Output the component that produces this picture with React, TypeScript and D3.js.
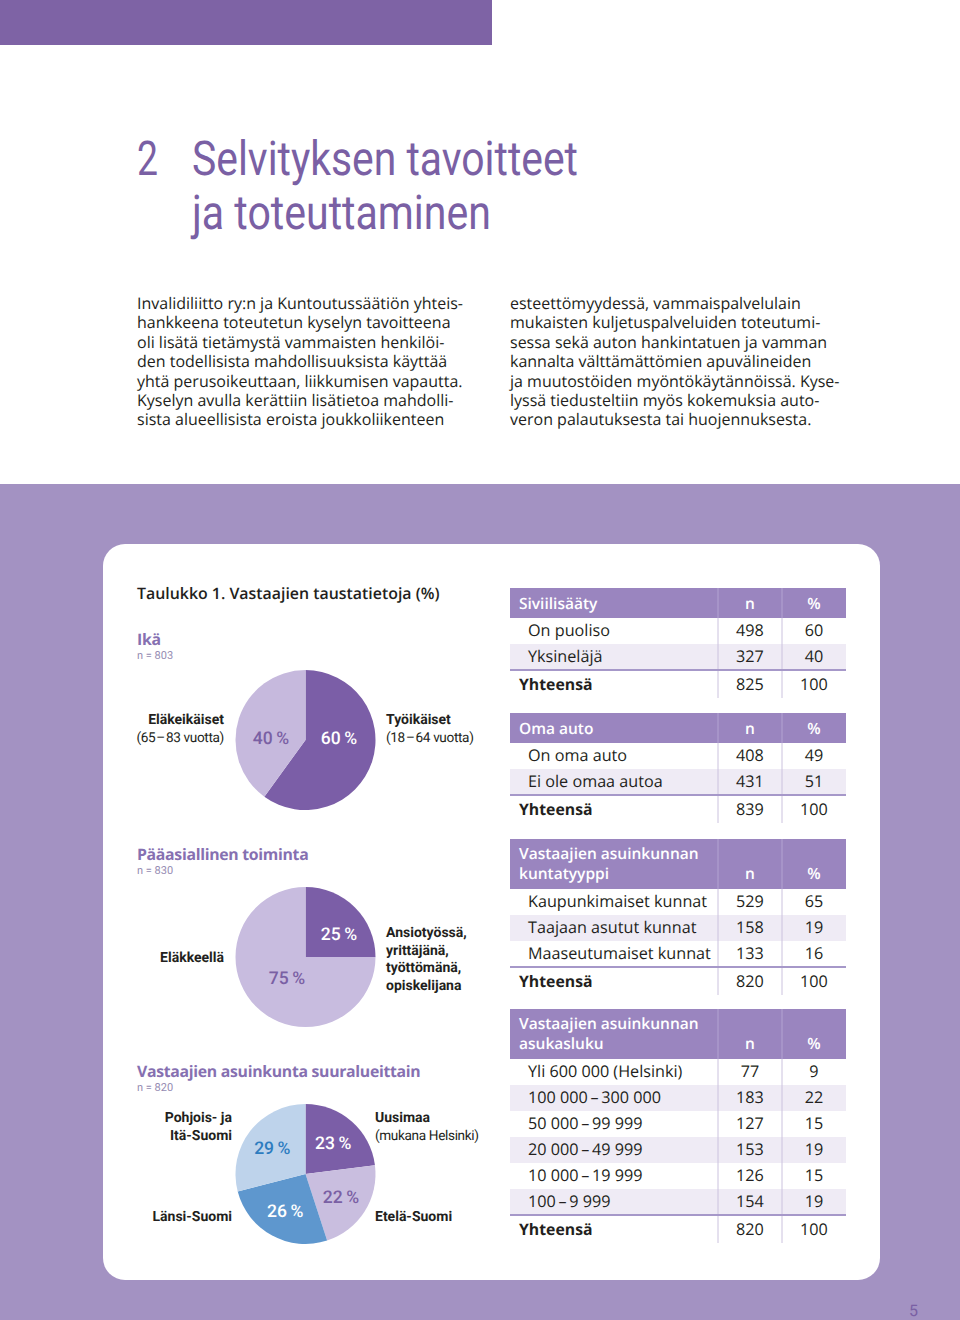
import React from 'react';
import * as d3 from 'd3';

// ---------- DATA ----------
const titleNumber = '2';
const titleLines = ['Selvityksen tavoitteet', 'ja toteuttaminen'];

const leftParagraph = [
  'Invalidiliitto ry:n ja Kuntoutussäätiön yhteis-',
  'hankkeena toteutetun kyselyn tavoitteena',
  'oli lisätä tietämystä vammaisten henkilöi-',
  'den todellisista mahdollisuuksista käyttää',
  'yhtä perusoikeuttaan, liikkumisen vapautta.',
  'Kyselyn avulla kerättiin lisätietoa mahdolli-',
  'sista alueellisista eroista joukkoliikenteen',
];
const rightParagraph = [
  'esteettömyydessä, vammaispalvelulain',
  'mukaisten kuljetuspalveluiden toteutumi-',
  'sessa sekä auton hankintatuen ja vamman',
  'kannalta välttämättömien apuvälineiden',
  'ja muutostöiden myöntökäytännöissä. Kyse-',
  'lyssä tiedusteltiin myös kokemuksia auto-',
  'veron palautuksesta tai huojennuksesta.',
];

const tableCaption = 'Taulukko 1. Vastaajien taustatietoja (%)';

// Pie: Ikä
const ageTitle = 'Ikä';
const ageN = 'n = 803';
const ageCategories = ['Työikäiset', 'Eläkeikäiset'];
const ageSubLabels = ['(18\u200A–\u200A64 vuotta)', '(65\u200A–\u200A83 vuotta)'];
const ageValues = [60, 40];

// Pie: Pääasiallinen toiminta
const activityTitle = 'Pääasiallinen toiminta';
const activityN = 'n = 830';
const activityLines = ['Ansiotyössä,', 'yrittäjänä,', 'työttömänä,', 'opiskelijana'];
const activityCategories = ['Ansiotyössä, yrittäjänä, työttömänä, opiskelijana', 'Eläkkeellä'];
const activityValues = [25, 75];

// Pie: suuralueet
const regionTitle = 'Vastaajien asuinkunta suuralueittain';
const regionN = 'n = 820';
const regionCategories = ['Uusimaa', 'Etelä-Suomi', 'Länsi-Suomi', 'Pohjois- ja Itä-Suomi'];
const regionSubLabel = '(mukana Helsinki)';
const regionLastLines = ['Pohjois- ja', 'Itä-Suomi'];
const regionValues = [23, 22, 26, 29];

// Tables
const civilHeader = ['Siviilisääty'];
const civilLabels = ['On puoliso', 'Yksineläjä'];
const civilN = [498, 327];
const civilPct = [60, 40];
const civilTotal = [825, 100];

const carHeader = ['Oma auto'];
const carLabels = ['On oma auto', 'Ei ole omaa autoa'];
const carN = [408, 431];
const carPct = [49, 51];
const carTotal = [839, 100];

const typeHeader = ['Vastaajien asuinkunnan', 'kuntatyyppi'];
const typeLabels = ['Kaupunkimaiset kunnat', 'Taajaan asutut kunnat', 'Maaseutumaiset kunnat'];
const typeN = [529, 158, 133];
const typePct = [65, 19, 16];
const typeTotal = [820, 100];

const popHeader = ['Vastaajien asuinkunnan', 'asukasluku'];
const popLabels = [
  'Yli 600 000 (Helsinki)',
  '100 000\u2009–\u2009300 000',
  '50 000\u2009–\u200999 999',
  '20 000\u2009–\u200949 999',
  '10 000\u2009–\u200919 999',
  '100\u2009–\u20099 999',
];
const popN = [77, 183, 127, 153, 126, 154];
const popPct = [9, 22, 15, 19, 15, 19];
const popTotal = [820, 100];

const totalLabel = 'Yhteensä';
const pageNumber = '5';

// ---------- STYLE ----------
const SANS = "'Open Sans', 'Noto Sans', sans-serif";
const COND = "Roboto, 'Liberation Sans', sans-serif";
const PURPLE_DARK = '#7B5EA7';
const PURPLE_TEXT = '#7A60A4';
const PURPLE_HEAD = '#8670B1';
const LAVENDER = '#C6B9DD';
const BAND = '#A392C2';
const TABLE_HEAD = '#9A85BF';
const SHADE = '#EFEBF5';
const INK = '#231F20';

const COLS = { left: 510, c1: 718, c2: 782, right: 846 };
const ROW_H = 26;
const TOTAL_H = 30;
const TABLE_FS = 16.2;

type TableProps = {
  top: number;
  header: string[];
  labels: string[];
  n: number[];
  pct: number[];
  total: number[];
};

function Table({ top, header, labels, n, pct, total }: TableProps) {
  const headerH = header.length > 1 ? 50 : 30;
  const bodyTop = top + headerH;
  const y = d3
    .scaleBand<number>()
    .domain(d3.range(labels.length))
    .range([bodyTop, bodyTop + labels.length * ROW_H]);
  const bodyBottom = bodyTop + labels.length * ROW_H;
  const bottom = bodyBottom + TOTAL_H - 2;
  const nX = (COLS.c1 + COLS.c2) / 2;
  const pX = (COLS.c2 + COLS.right) / 2;
  const headBase = header.length > 1 ? [top + 20, top + 40] : [top + 21];
  const lastHead = headBase[headBase.length - 1];
  return (
    <g>
      <rect x={COLS.left} y={top} width={COLS.right - COLS.left} height={headerH} fill={TABLE_HEAD} />
      {labels.map((_, i) =>
        i % 2 === 1 ? (
          <rect key={'s' + i} x={COLS.left} y={y(i)} width={COLS.right - COLS.left} height={y.bandwidth()} fill={SHADE} />
        ) : null
      )}
      {[COLS.c1, COLS.c2].map((x) => (
        <g key={'v' + x}>
          <line x1={x} x2={x} y1={top} y2={bodyTop} stroke="#B3A3D2" strokeWidth={1} />
          <line x1={x} x2={x} y1={bodyTop} y2={bottom} stroke="#CBC2DE" strokeWidth={1} />
        </g>
      ))}
      <line x1={COLS.left} x2={COLS.right} y1={bodyBottom} y2={bodyBottom} stroke="#A698C9" strokeWidth={2} />
      {header.map((h, i) => (
        <text key={'h' + i} x={COLS.left + 9} y={headBase[i]} fill="#fff" fontFamily={SANS} fontWeight={600} fontSize={15.5}>
          {h}
        </text>
      ))}
      <text x={nX} y={lastHead} fill="#fff" fontFamily={SANS} fontWeight={600} fontSize={15.5} textAnchor="middle">n</text>
      <text x={pX} y={lastHead} fill="#fff" fontFamily={SANS} fontWeight={600} fontSize={15.5} textAnchor="middle">%</text>
      {labels.map((l, i) => (
        <g key={'r' + i} fontFamily={SANS} fontSize={TABLE_FS} fill={INK}>
          <text x={COLS.left + 18} y={(y(i) as number) + 18}>{l}</text>
          <text x={nX} y={(y(i) as number) + 18} textAnchor="middle">{n[i]}</text>
          <text x={pX} y={(y(i) as number) + 18} textAnchor="middle">{pct[i]}</text>
        </g>
      ))}
      <g fontFamily={SANS} fontSize={TABLE_FS} fill={INK}>
        <text x={COLS.left + 9} y={bodyBottom + 20} fontWeight={700} fontSize={15.8}>{totalLabel}</text>
        <text x={nX} y={bodyBottom + 20} textAnchor="middle">{total[0]}</text>
        <text x={pX} y={bodyBottom + 20} textAnchor="middle">{total[1]}</text>
      </g>
    </g>
  );
}

type PieProps = {
  cx: number;
  cy: number;
  values: number[];
  colors: string[];
  labelColors: string[];
  labelAt: (d: d3.PieArcDatum<number>, i: number, centroid: [number, number]) => [number, number];
};

const R = 70;

function Pie({ cx, cy, values, colors, labelColors, labelAt }: PieProps) {
  const arcs = d3.pie<number>().sort(null).startAngle(0).endAngle(2 * Math.PI)(values);
  const arc = d3.arc<d3.PieArcDatum<number>>().innerRadius(0).outerRadius(R);
  const labelArc = d3.arc<d3.PieArcDatum<number>>().innerRadius(84).outerRadius(0);
  return (
    <g transform={`translate(${cx},${cy})`}>
      {arcs.map((a, i) => (
        <path key={i} d={arc(a) || ''} fill={colors[i]} />
      ))}
      {arcs.map((a, i) => {
        const c = labelArc.centroid(a) as [number, number];
        const [lx, ly] = labelAt(a, i, c);
        return (
          <text key={'l' + i} x={lx} y={ly} textAnchor="middle" fontFamily={COND} fontWeight={500} fontSize={17.5} fill={labelColors[i]}>
            {a.data}
            {'\u2009%'}
          </text>
        );
      })}
    </g>
  );
}

function SideLabel({ x, y, lines, anchor }: { x: number; y: number; lines: { t: string; b: boolean }[]; anchor: 'start' | 'end' }) {
  return (
    <g fontFamily={COND} fill={INK} textAnchor={anchor}>
      {lines.map((l, i) => (
        <text
          key={i}
          x={x}
          y={y + i * 17.5}
          fontWeight={l.b ? 700 : 400}
          fontSize={l.b ? 14 : 13.6}
          letterSpacing={l.b ? 0 : -0.35}
        >
          {l.t}
        </text>
      ))}
    </g>
  );
}

function SectionHead({ y, title, n }: { y: number; title: string; n: string }) {
  return (
    <g>
      <text x={137} y={y} fontFamily={SANS} fontWeight={700} fontSize={15.8} letterSpacing={-0.3} fill={PURPLE_HEAD}>{title}</text>
      <text x={137} y={y + 14} fontFamily={COND} fontSize={11} fill="#958BB2">{n}</text>
    </g>
  );
}

export default function App() {
  const pie1 = { cx: 305.5, cy: 740 };
  const pie2 = { cx: 305.5, cy: 957 };
  const pie3 = { cx: 305.5, cy: 1174 };
  return (
    <svg
      width={960}
      height={1320}
      viewBox="0 0 960 1320"
      style={{ position: 'absolute', left: 0, top: 0, display: 'block' }}
      textRendering="geometricPrecision"
    >
      <rect x={0} y={0} width={960} height={1320} fill="#fff" />
      <rect x={0} y={0} width={492} height={45} fill="#7E63A5" />

      {/* Title */}
      <g fontFamily={COND} fontWeight={400} fontSize={48} fill={PURPLE_TEXT}>
        <text x={137} y={175} textLength={21} lengthAdjust="spacingAndGlyphs">{titleNumber}</text>
        <text x={192} y={175} textLength={386} lengthAdjust="spacingAndGlyphs">{titleLines[0]}</text>
        <text x={192} y={229} textLength={299} lengthAdjust="spacingAndGlyphs">{titleLines[1]}</text>
      </g>

      {/* Body text */}
      <g fontFamily={SANS} fontSize={16} fill={INK}>
        {leftParagraph.map((l, i) => (
          <text key={'lp' + i} x={137} y={309 + i * 19.4}>{l}</text>
        ))}
        {rightParagraph.map((l, i) => (
          <text key={'rp' + i} x={510} y={309 + i * 19.4}>{l}</text>
        ))}
      </g>

      {/* Band and card */}
      <rect x={0} y={484} width={960} height={836} fill={BAND} />
      <rect x={103} y={544} width={777} height={736} rx={22} ry={22} fill="#fff" />

      <text x={137} y={599} fontFamily={SANS} fontWeight={600} fontSize={15.9} fill={INK}>{tableCaption}</text>

      {/* Ikä */}
      <SectionHead y={645} title={ageTitle} n={ageN} />
      <Pie
        {...pie1}
        values={ageValues}
        colors={[PURPLE_DARK, LAVENDER]}
        labelColors={['#fff', PURPLE_TEXT]}
        labelAt={(_, i) => (i === 0 ? [33.5, 4] : [-34.5, 4])}
      />
      <SideLabel x={pie1.cx + 80.5} y={724} anchor="start" lines={[{ t: ageCategories[0], b: true }, { t: ageSubLabels[0], b: false }]} />
      <SideLabel x={pie1.cx - 81.5} y={724} anchor="end" lines={[{ t: ageCategories[1], b: true }, { t: ageSubLabels[1], b: false }]} />

      {/* Pääasiallinen toiminta */}
      <SectionHead y={860} title={activityTitle} n={activityN} />
      <Pie
        {...pie2}
        values={activityValues}
        colors={[PURPLE_DARK, '#C8BCDF']}
        labelColors={['#fff', PURPLE_TEXT]}
        labelAt={(_, i) => (i === 0 ? [33.5, -17] : [-18.5, 27])}
      />
      <SideLabel x={pie2.cx + 80.5} y={937} anchor="start" lines={activityLines.map((t) => ({ t, b: true }))} />
      <SideLabel x={pie2.cx - 81.5} y={962} anchor="end" lines={[{ t: activityCategories[1], b: true }]} />

      {/* Suuralueet */}
      <SectionHead y={1077} title={regionTitle} n={regionN} />
      <Pie
        {...pie3}
        values={regionValues}
        colors={[PURPLE_DARK, '#C9BEDF', '#5E97CE', '#BED3EB']}
        labelColors={['#fff', PURPLE_TEXT, '#fff', '#2D7CBF']}
        labelAt={(_, __, c) => [c[0], c[1] + 6]}
      />
      <SideLabel x={pie3.cx + 69.5} y={1122} anchor="start" lines={[{ t: regionCategories[0], b: true }, { t: regionSubLabel, b: false }]} />
      <SideLabel x={pie3.cx + 69.5} y={1221} anchor="start" lines={[{ t: regionCategories[1], b: true }]} />
      <SideLabel x={pie3.cx - 73.5} y={1221} anchor="end" lines={[{ t: regionCategories[2], b: true }]} />
      <SideLabel x={pie3.cx - 73.5} y={1122} anchor="end" lines={regionLastLines.map((t) => ({ t, b: true }))} />

      {/* Tables */}
      <Table top={588} header={civilHeader} labels={civilLabels} n={civilN} pct={civilPct} total={civilTotal} />
      <Table top={713} header={carHeader} labels={carLabels} n={carN} pct={carPct} total={carTotal} />
      <Table top={839} header={typeHeader} labels={typeLabels} n={typeN} pct={typePct} total={typeTotal} />
      <Table top={1009} header={popHeader} labels={popLabels} n={popN} pct={popPct} total={popTotal} />

      <text x={909} y={1316} fontFamily={COND} fontSize={16} fill={PURPLE_TEXT}>{pageNumber}</text>
    </svg>
  );
}
